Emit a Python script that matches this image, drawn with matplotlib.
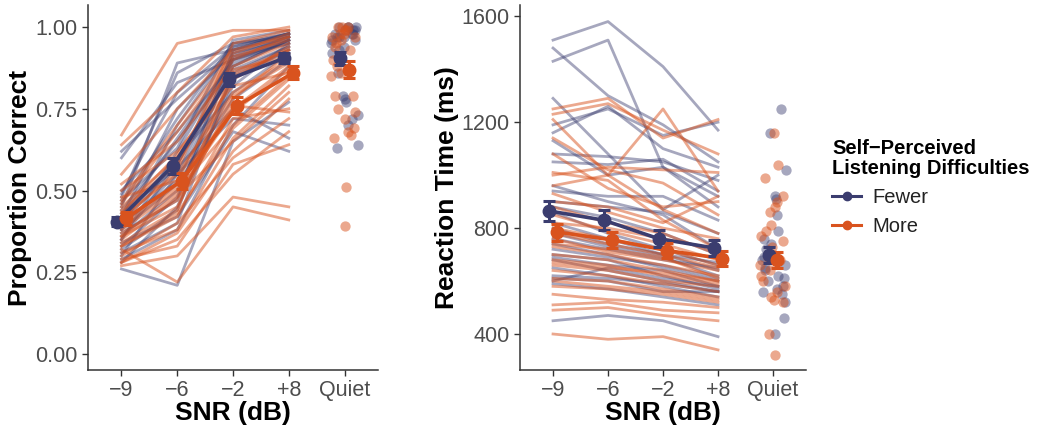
import numpy as np
from matplotlib import pyplot as plt
from matplotlib.lines import Line2D

plt.rcParams['font.family'] = ['Liberation Sans', 'DejaVu Sans']

conditions = ['\u22129', '\u22126', '\u22122', '+8', 'Quiet']
groups = ['Fewer', 'More']

# proportion correct, one row per participant: -9, -6, -2, +8
pc_fewer = [
    [0.45, 0.89, 0.93, 0.97], [0.48, 0.86, 0.95, 0.98], [0.60, 0.83, 0.90, 0.96],
    [0.42, 0.75, 0.92, 0.97], [0.38, 0.70, 0.94, 0.98], [0.35, 0.62, 0.91, 0.95],
    [0.44, 0.65, 0.88, 0.96], [0.30, 0.55, 0.90, 0.97], [0.40, 0.58, 0.87, 0.94],
    [0.36, 0.50, 0.85, 0.93], [0.33, 0.48, 0.93, 0.98], [0.41, 0.60, 0.80, 0.92],
    [0.28, 0.45, 0.82, 0.95], [0.50, 0.68, 0.89, 0.96], [0.38, 0.52, 0.78, 0.90],
    [0.26, 0.21, 0.65, 0.77], [0.34, 0.42, 0.68, 0.62], [0.39, 0.55, 0.72, 0.70],
    [0.47, 0.63, 0.96, 0.99], [0.31, 0.40, 0.86, 0.94], [0.43, 0.57, 0.75, 0.66],
    [0.37, 0.47, 0.91, 0.97], [0.62, 0.78, 0.93, 0.98], [0.29, 0.38, 0.70, 0.88],
    [0.46, 0.72, 0.95, 0.97], [0.35, 0.58, 0.92, 0.96], [0.42, 0.66, 0.90, 0.95],
    [0.32, 0.44, 0.84, 0.93], [0.49, 0.80, 0.94, 0.98], [0.40, 0.53, 0.88, 0.96],
]
pc_more = [
    [0.67, 0.95, 0.99, 0.99], [0.64, 0.80, 0.97, 1.00], [0.55, 0.75, 0.93, 0.97],
    [0.52, 0.65, 0.88, 0.95], [0.45, 0.60, 0.85, 0.93], [0.42, 0.55, 0.80, 0.90],
    [0.40, 0.52, 0.75, 0.88], [0.38, 0.50, 0.70, 0.85], [0.36, 0.45, 0.78, 0.92],
    [0.35, 0.48, 0.65, 0.80], [0.33, 0.42, 0.72, 0.75], [0.30, 0.40, 0.60, 0.72],
    [0.28, 0.35, 0.55, 0.68], [0.27, 0.30, 0.48, 0.45], [0.32, 0.22, 0.45, 0.41],
    [0.44, 0.58, 0.90, 0.97], [0.50, 0.62, 0.82, 0.86], [0.29, 0.33, 0.58, 0.64],
    [0.41, 0.56, 0.95, 0.99], [0.37, 0.47, 0.76, 0.74], [0.46, 0.68, 0.91, 0.96],
    [0.31, 0.38, 0.66, 0.82], [0.48, 0.53, 0.84, 0.94], [0.34, 0.44, 0.87, 0.91],
    [0.39, 0.51, 0.79, 0.89], [0.43, 0.61, 0.86, 0.93], [0.36, 0.49, 0.74, 0.87],
    [0.28, 0.37, 0.62, 0.78], [0.47, 0.70, 0.92, 0.98], [0.33, 0.43, 0.69, 0.84],
]
pc_quiet_fewer = [1.0, 0.99, 0.98, 0.97, 1.0, 0.96, 0.95, 0.99, 0.98, 0.94, 0.93, 0.97, 0.86,
                  0.79, 0.78, 0.77, 0.73, 0.72, 0.70, 0.64, 0.63, 0.98, 1.0, 0.96, 0.92,
                  0.99, 0.97, 1.0]
pc_quiet_more = [1.0, 0.99, 0.98, 1.0, 0.97, 0.95, 0.93, 0.88, 0.86, 0.85, 0.79, 0.79, 0.75,
                 0.74, 0.72, 0.69, 0.68, 0.67, 0.66, 0.51, 0.39, 0.97, 0.96, 0.99, 0.90,
                 1.0, 0.98, 0.94]
pc_mean_fewer = [0.405, 0.575, 0.84, 0.905, 0.905]
pc_mean_more = [0.415, 0.53, 0.76, 0.86, 0.87]
pc_se_fewer = [0.015, 0.025, 0.02, 0.015, 0.02]
pc_se_more = [0.02, 0.025, 0.025, 0.02, 0.025]

# reaction time (ms)
rt_fewer = [
    [1510, 1580, 1410, 1170], [1430, 1510, 1030, 920], [1480, 1300, 1190, 1050],
    [1290, 1080, 870, 1000], [1190, 1250, 1150, 1200], [1160, 1260, 1100, 1030],
    [1130, 1000, 1030, 880], [1080, 1070, 1050, 980], [1050, 1040, 1060, 940],
    [940, 920, 920, 830], [900, 880, 860, 780], [860, 780, 720, 660],
    [820, 760, 700, 640], [780, 730, 690, 620], [740, 700, 650, 600],
    [700, 680, 620, 570], [680, 640, 600, 560], [650, 620, 580, 540],
    [610, 600, 560, 560], [590, 570, 540, 510], [450, 470, 450, 390],
    [720, 690, 660, 610], [600, 650, 610, 580], [960, 900, 850, 720],
    [880, 840, 780, 700], [690, 660, 640, 580], [760, 720, 680, 650],
    [620, 610, 590, 560], [800, 740, 700, 670],
]
rt_more = [
    [1250, 1290, 1140, 1210], [1230, 1270, 1170, 1080], [1210, 1000, 1250, 940],
    [1140, 1020, 970, 850], [1080, 950, 880, 900], [1010, 980, 830, 720],
    [930, 860, 800, 760], [880, 820, 780, 700], [850, 790, 740, 680],
    [800, 760, 720, 660], [780, 740, 700, 650], [760, 710, 680, 640],
    [730, 700, 660, 620], [700, 680, 640, 600], [680, 660, 620, 590],
    [660, 640, 600, 580], [640, 620, 590, 560], [610, 600, 570, 540],
    [580, 570, 550, 520], [550, 530, 520, 500], [510, 520, 490, 480],
    [490, 500, 470, 450], [400, 380, 390, 340], [1000, 1030, 1020, 1010],
    [960, 1000, 870, 780], [820, 800, 760, 720], [740, 720, 690, 610],
    [670, 650, 630, 600], [600, 580, 560, 530], [900, 880, 820, 920],
]
rt_quiet_fewer = [1250, 1160, 1020, 920, 910, 850, 790, 760, 740, 720, 700, 680, 660,
                  640, 620, 600, 580, 570, 560, 550, 520, 460, 400, 690, 650, 610]
rt_quiet_more = [1160, 990, 920, 900, 880, 860, 810, 790, 770, 750, 730, 700, 690,
                 680, 660, 640, 620, 600, 580, 560, 540, 530, 520, 400, 320, 1040]
rt_mean_fewer = [865, 830, 760, 725, 700]
rt_mean_more = [785, 755, 715, 685, 680]
rt_se_fewer = [38, 38, 32, 30, 30]
rt_se_more = [32, 32, 28, 28, 30]

col_fewer = '#3b3d6f'
col_more = '#d9531e'
grey = '#4d4d4d'

fig = plt.figure(figsize=(10.38, 4.29), dpi=100)
ax1 = fig.add_axes([0.0848, 0.1375, 0.2794, 0.8505])
ax2 = fig.add_axes([0.501, 0.1375, 0.2755, 0.8505])

rng = np.random.default_rng(7)


def draw_panel(ax, ind_f, ind_m, q_f, q_m, m_f, m_m, se_f, se_m):
    x = np.arange(1, 5)
    for row in ind_f:
        ax.plot(x, row, color=col_fewer, alpha=0.45, lw=2.0, zorder=2)
    for row in ind_m:
        ax.plot(x, row, color=col_more, alpha=0.5, lw=2.0, zorder=2)
    jf = 5 + rng.uniform(-0.24, 0.24, len(q_f))
    jm = 5 + rng.uniform(-0.24, 0.24, len(q_m))
    ax.scatter(jf, q_f, s=55, color=col_fewer, alpha=0.45, lw=0, zorder=2)
    ax.scatter(jm, q_m, s=55, color=col_more, alpha=0.5, lw=0, zorder=2)
    xs = np.arange(1, 6)
    for vals, se, col, d in [(m_f, se_f, col_fewer, -0.08), (m_m, se_m, col_more, 0.08)]:
        ax.plot(xs[:4] + d, vals[:4], color=col, lw=2.6, zorder=4)
        ax.errorbar(xs + d, vals, yerr=se, fmt='o', color=col, ms=9,
                    elinewidth=2.2, capsize=4, capthick=2.2, zorder=5)
    ax.set_xlim(0.4, 5.6)
    ax.set_xticks(xs)
    ax.set_xticklabels(conditions)
    for s in ['top', 'right']:
        ax.spines[s].set_visible(False)
    for s in ['left', 'bottom']:
        ax.spines[s].set_color('#333333')
        ax.spines[s].set_linewidth(1.1)
    ax.tick_params(colors='#333333', labelcolor=grey, labelsize=15.5, length=4, width=1)
    ax.set_xlabel('SNR (dB)', fontsize=19, fontweight='bold', labelpad=0)


draw_panel(ax1, pc_fewer, pc_more, pc_quiet_fewer, pc_quiet_more,
           pc_mean_fewer, pc_mean_more, pc_se_fewer, pc_se_more)
ax1.set_ylim(-0.049, 1.067)
ax1.set_yticks([0, 0.25, 0.5, 0.75, 1.0])
ax1.set_yticklabels(['0.00', '0.25', '0.50', '0.75', '1.00'])
ax1.set_ylabel('Proportion Correct', fontsize=19, fontweight='bold', labelpad=2)

draw_panel(ax2, rt_fewer, rt_more, rt_quiet_fewer, rt_quiet_more,
           rt_mean_fewer, rt_mean_more, rt_se_fewer, rt_se_more)
ax2.set_ylim(264, 1642)
ax2.set_yticks([400, 800, 1200, 1600])
ax2.set_ylabel('Reaction Time (ms)', fontsize=19, fontweight='bold', labelpad=2)

handles = [Line2D([], [], color=col_fewer, marker='o', lw=2.2, ms=6),
           Line2D([], [], color=col_more, marker='o', lw=2.2, ms=6)]
leg = fig.legend(handles, groups, loc='upper left', bbox_to_anchor=(0.802, 0.675),
                 frameon=False, fontsize=14.5, title='Self\u2212Perceived\nListening Difficulties',
                 title_fontproperties={'weight': 'bold', 'size': 14.5}, borderaxespad=0,
                 borderpad=0, handlelength=1.4, handletextpad=0.6, labelspacing=0.5,
                 alignment='left')
leg.get_title().set_linespacing(1.05)
for t in leg.get_texts():
    t.set_color('#222222')

plt.savefig('out.png', dpi=100)
